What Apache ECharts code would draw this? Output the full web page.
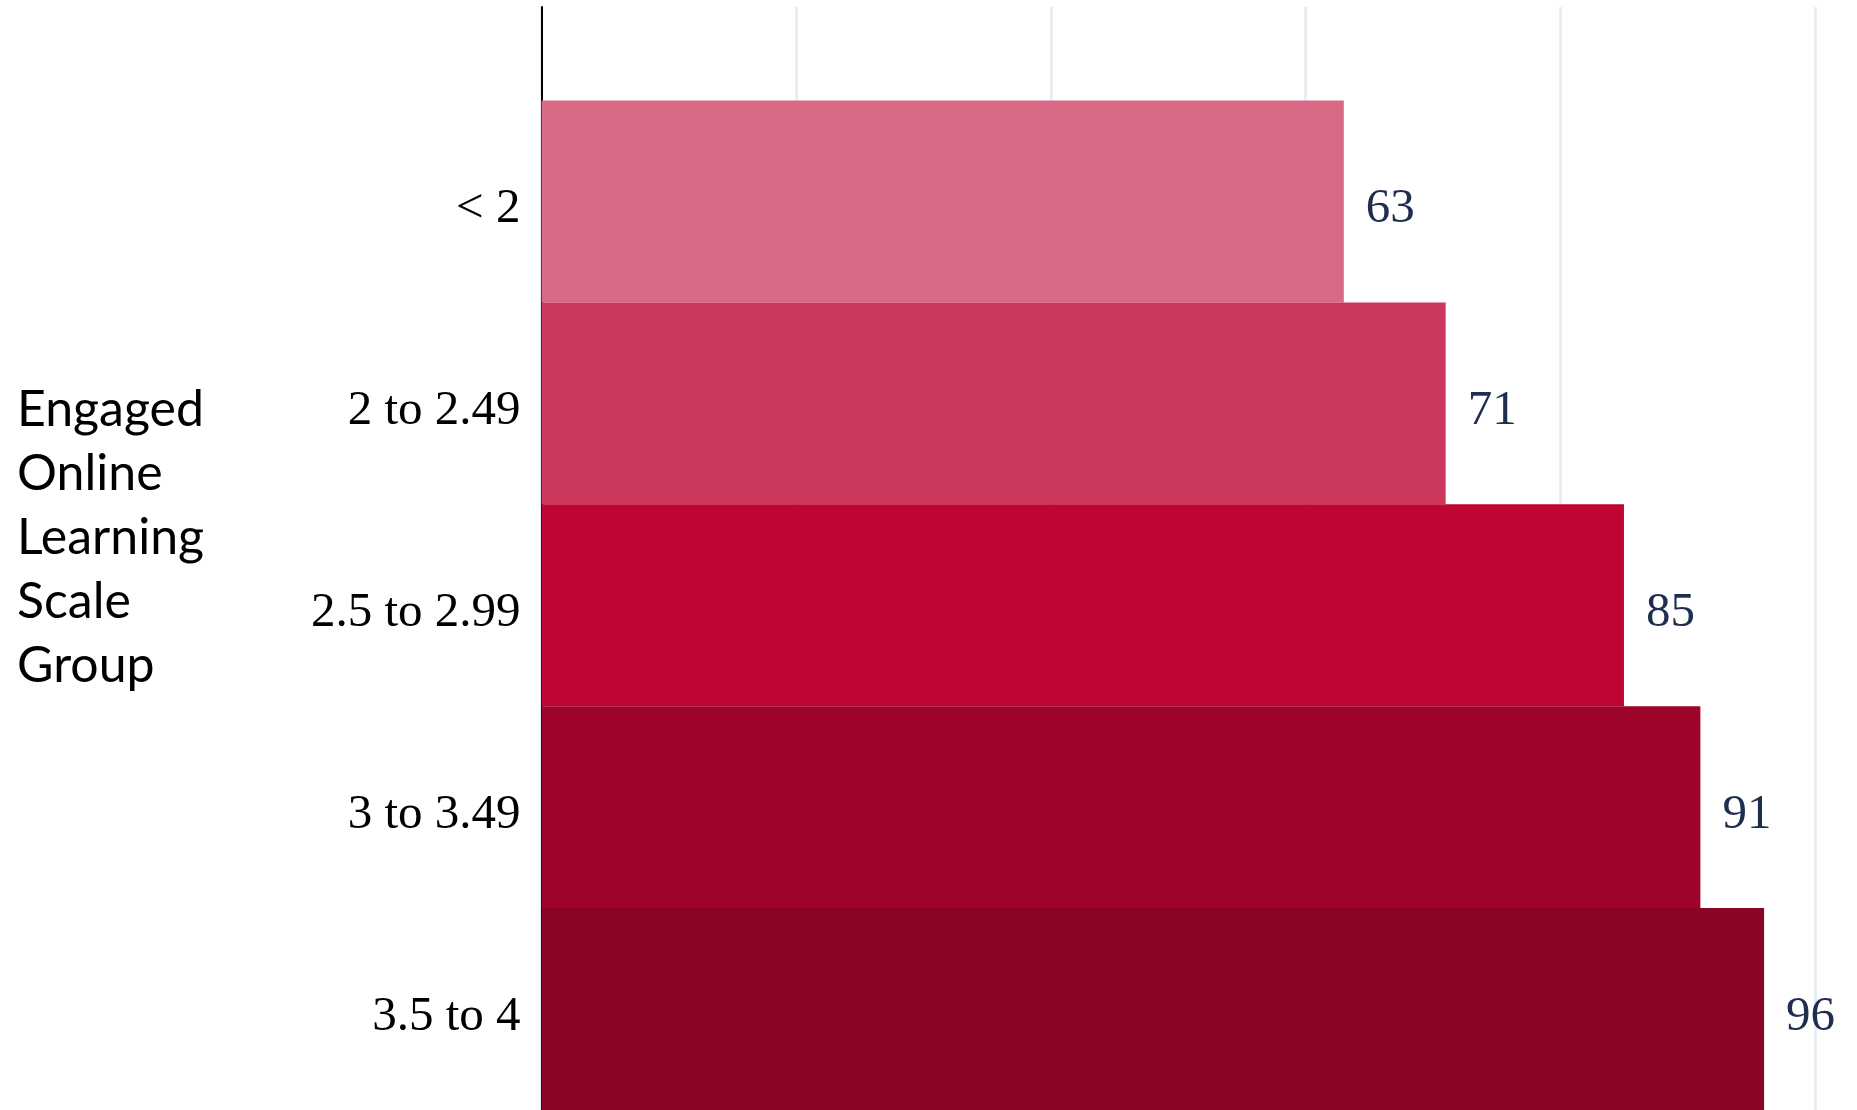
<!DOCTYPE html>
<html>
<head>
<meta charset="utf-8">
<script src="https://cdn.jsdelivr.net/npm/echarts@6/dist/echarts.min.js"></script>
<style>
html,body{margin:0;padding:0;background:#fff;}
#chart{width:1857px;height:1110px;}
</style>
</head>
<body>
<div id="chart"></div>
<script>
const categories = ['< 2', '2 to 2.49', '2.5 to 2.99', '3 to 3.49', '3.5 to 4'];
const values = [63, 71, 85, 91, 96];
const barColors = ['#da6985', '#cc385b', '#bf0633', '#9e0429', '#8a0425'];
const axisTitle = 'Engaged\nOnline\nLearning\nScale\nGroup';
const xMin = 0, xMax = 100, xInterval = 20;

const chart = echarts.init(document.getElementById('chart'), null, {renderer: 'canvas'});
const serif = "'Liberation Serif', 'Times New Roman', serif";

chart.setOption({
  animation: false,
  backgroundColor: '#ffffff',
  title: {
    text: axisTitle,
    left: 17,
    top: 378,
    padding: 0,
    textStyle: {
      fontFamily: 'Lato',
      fontSize: 50,
      fontWeight: 'normal',
      lineHeight: 64,
      color: '#000000'
    }
  },
  grid: [
    {left: 541.5, right: 42, top: 7, bottom: 0, containLabel: false},
    {left: 541.5, right: 42, top: 100.6, height: 1012.5, containLabel: false}
  ],
  xAxis: [
    {
      gridIndex: 0, type: 'value', min: xMin, max: xMax, interval: xInterval,
      axisLine: {show: false}, axisTick: {show: false}, axisLabel: {show: false},
      splitLine: {show: true, lineStyle: {color: '#e6edf3', width: 3}}
    },
    {
      gridIndex: 1, type: 'value', min: xMin, max: xMax, interval: xInterval,
      show: false
    }
  ],
  yAxis: [
    {
      gridIndex: 0, type: 'value', min: 0, max: 1,
      axisLine: {show: true, onZero: false, lineStyle: {color: '#000000', width: 2}},
      axisTick: {show: false}, axisLabel: {show: false}, splitLine: {show: false}
    },
    {
      gridIndex: 1, type: 'category', data: categories, inverse: true,
      axisLine: {show: false}, axisTick: {show: false}, splitLine: {show: false},
      axisLabel: {
        margin: 21,
        formatter: '{a|{value}}',
        rich: {
          a: {
            fontFamily: serif,
            fontSize: 49,
            color: '#000000',
            padding: [16, 0, 0, 0]
          }
        }
      }
    }
  ],
  series: [
    {
      type: 'bar',
      xAxisIndex: 1,
      yAxisIndex: 1,
      barCategoryGap: '0%',
      data: values.map((v, i) => ({value: v, itemStyle: {color: barColors[i]}})),
      label: {
        show: true,
        position: 'right',
        distance: 22,
        offset: [0, 8],
        fontFamily: serif,
        fontSize: 49,
        color: '#1f2d4f'
      },
      z: 3
    }
  ]
});
</script>
</body>
</html>
